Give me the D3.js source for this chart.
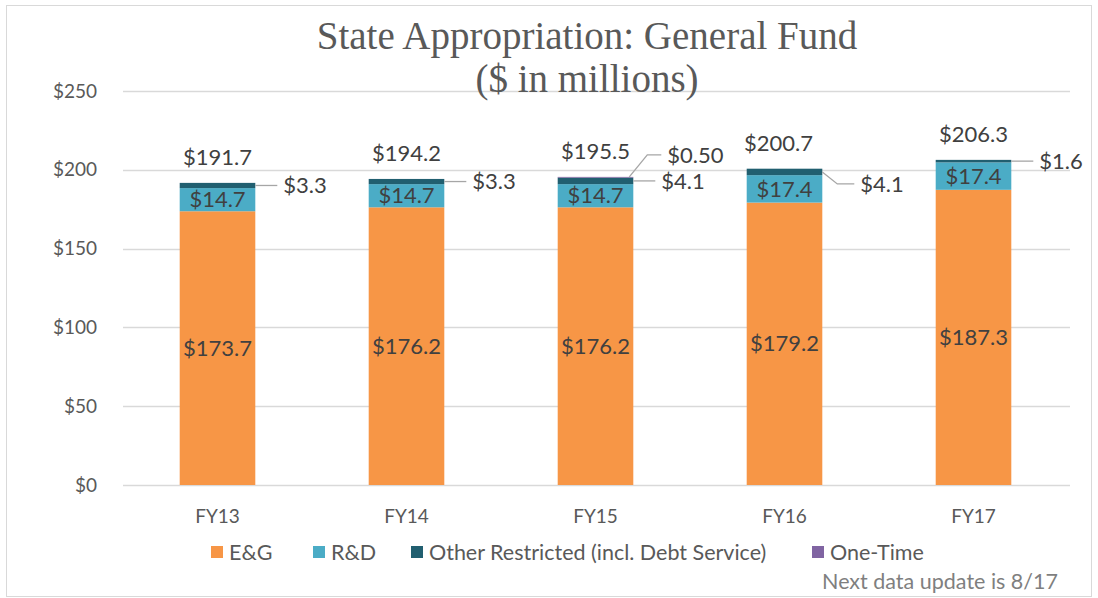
<!DOCTYPE html>
<html>
<head>
<meta charset="utf-8">
<script src="https://cdn.jsdelivr.net/npm/d3@7"></script>
<style>
  body { margin: 0; background: #fff; }
  svg text { font-family: Lato, "Open Sans", sans-serif; }
</style>
</head>
<body>
<svg id="chart" width="1098" height="598"></svg>
<script>
// data
const years = ["FY13", "FY14", "FY15", "FY16", "FY17"];
const eg = [173.7, 176.2, 176.2, 179.2, 187.3];
const rd = [14.7, 14.7, 14.7, 17.4, 17.4];
const otherRestricted = [3.3, 3.3, 4.1, 4.1, 1.6];
const oneTime = [0, 0, 0.5, 0, 0];
const totals = [191.7, 194.2, 195.5, 200.7, 206.3];
const yTicks = [0, 50, 100, 150, 200, 250];
const seriesNames = ["E&G", "R&D", "Other Restricted (incl. Debt Service)", "One-Time"];
const colors = ["#f79646", "#4bacc6", "#215f70", "#8064a2"];

let svg = d3.select("#chart");

// outer frame
svg.append("rect")
    .attr("x", 6.5).attr("y", 5.5)
    .attr("width", 1085).attr("height", 591)
    .attr("fill", "none")
    .attr("stroke", "#d9d9d9");

let x = d3.scaleBand()
    .domain(years)
    .range([123, 1068])
    .paddingInner(0.6)
    .paddingOuter(0.3);

let y = d3.scaleLinear()
    .domain([0, 250])
    .range([485, 91]);

// gridlines + y labels
svg.append("g")
    .selectAll("line")
    .data(yTicks)
    .enter()
    .append("line")
      .attr("x1", 123).attr("x2", 1070)
      .attr("y1", d => Math.round(y(d)) + 0.5)
      .attr("y2", d => Math.round(y(d)) + 0.5)
      .attr("stroke", "#d9d9d9")
      .attr("stroke-width", 1.3);

svg.append("g")
    .selectAll("text")
    .data(yTicks)
    .enter()
    .append("text")
      .attr("x", 97)
      .attr("y", d => y(d))
      .attr("dy", "0.35em")
      .attr("text-anchor", "end")
      .style("font-size", "19px")
      .attr("fill", "#595959")
      .text(d => "$" + d);

// x labels
svg.append("g")
    .selectAll("text")
    .data(years)
    .enter()
    .append("text")
      .attr("x", d => x(d) + x.bandwidth() / 2)
      .attr("y", 523)
      .attr("text-anchor", "middle")
      .style("font-size", "19px")
      .attr("fill", "#595959")
      .text(d => d);

// stacked bars
let rows = years.map((yr, i) => ({
    year: yr, 0: eg[i], 1: rd[i], 2: otherRestricted[i], 3: oneTime[i]
}));
let stack = d3.stack().keys([0, 1, 2, 3])(rows);

svg.append("g")
    .selectAll("g")
    .data(stack)
    .enter()
    .append("g")
      .attr("fill", (d, i) => colors[i])
    .selectAll("rect")
    .data(d => d)
    .enter()
    .append("rect")
      .attr("x", d => x(d.data.year))
      .attr("y", d => y(d[1]))
      .attr("width", x.bandwidth())
      .attr("height", d => y(d[0]) - y(d[1]));

let labels = svg.append("g")
    .style("font-size", "22px")
    .attr("fill", "#404040");

// E&G and R&D labels inside
[0, 1].forEach(k => {
    labels.selectAll(null)
        .data(stack[k])
        .enter()
        .append("text")
          .attr("x", d => x(d.data.year) + x.bandwidth() / 2)
          .attr("y", d => y((d[0] + d[1]) / 2))
          .attr("dy", "0.35em")
          .attr("text-anchor", "middle")
          .text(d => "$" + (d[1] - d[0]).toFixed(1));
});

// totals above
labels.selectAll(null)
    .data(years)
    .enter()
    .append("text")
      .attr("x", (d, i) => x(d) + x.bandwidth() / 2 - (i == 3 ? 6 : 0))
      .attr("y", (d, i) => y(totals[i]) - 18)
      .attr("text-anchor", "middle")
      .text((d, i) => "$" + totals[i].toFixed(1));

// callouts for the thin segments
let leaders = svg.append("g")
    .attr("stroke", "#a6a6a6")
    .attr("stroke-width", 1.3)
    .attr("fill", "none");

years.forEach((yr, i) => {
    let right = x(yr) + x.bandwidth();
    let s = stack[2][i];
    let my = y((s[0] + s[1]) / 2);
    let ty = my;
    let pts;
    if (i == 3) {
        ty = my + 12;
        pts = [[right, my], [right + 15, ty], [right + 32, ty]];
    } else {
        pts = [[right, my], [right + 22, ty]];
    }
    leaders.append("polyline").attr("points", pts.map(p => p.join(",")).join(" "));
    labels.append("text")
        .attr("x", pts[pts.length - 1][0] + 6)
        .attr("y", ty)
        .attr("dy", "0.35em")
        .text("$" + otherRestricted[i].toFixed(1));

    if (oneTime[i] > 0) {
        let o = stack[3][i];
        let oy = y(o[1]);
        let p2 = [[right - 4, oy], [right + 14, oy - 22], [right + 28, oy - 22]];
        leaders.append("polyline").attr("points", p2.map(p => p.join(",")).join(" "));
        labels.append("text")
            .attr("x", right + 34)
            .attr("y", oy - 22)
            .attr("dy", "0.35em")
            .text("$" + oneTime[i].toFixed(2));
    }
});

// title
let title = svg.append("g")
    .attr("fill", "#595959")
    .style("font-size", "39px");
title.append("text")
    .attr("x", 587).attr("y", 49)
    .attr("text-anchor", "middle")
    .style("font-family", "'Liberation Serif', 'DejaVu Serif', serif")
    .text("State Appropriation: General Fund");
title.append("text")
    .attr("x", 587).attr("y", 92)
    .attr("text-anchor", "middle")
    .style("font-family", "'Liberation Serif', 'DejaVu Serif', serif")
    .text("($ in millions)");

// legend
let legendX = [211, 313, 411, 812];
let legend = svg.append("g")
    .selectAll("g")
    .data(seriesNames)
    .enter()
    .append("g")
      .attr("transform", (d, i) => "translate(" + legendX[i] + ",552)");
legend.append("rect")
    .attr("x", 0).attr("y", -6)
    .attr("width", 12).attr("height", 12)
    .attr("fill", (d, i) => colors[i]);
legend.append("text")
    .attr("x", 18)
    .attr("dy", "0.35em")
    .style("font-size", "21.5px")
    .attr("fill", "#595959")
    .text(d => d);

svg.append("text")
    .attr("x", 1058).attr("y", 589)
    .attr("text-anchor", "end")
    .style("font-size", "21.5px")
    .attr("fill", "#7f7f7f")
    .text("Next data update is 8/17");
</script>
</body>
</html>
